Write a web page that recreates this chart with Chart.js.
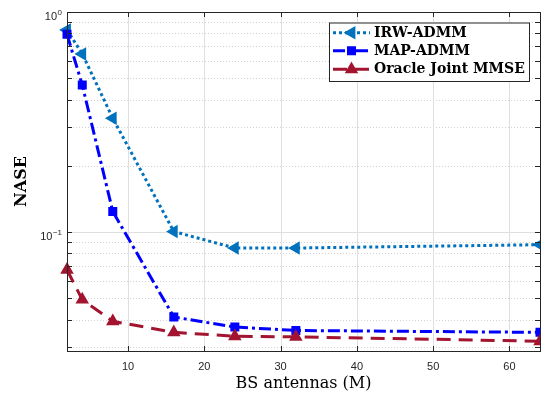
<!DOCTYPE html>
<html>
<head>
<meta charset="utf-8">
<script src="https://cdn.jsdelivr.net/npm/chart.js@4.4.1/dist/chart.umd.min.js"></script>
<style>
  html, body { margin: 0; padding: 0; background: #fff; }
  #myChart { display: block; }
</style>
</head>
<body>
<canvas id="myChart" width="551" height="401"></canvas>
<script>
// BS antennas (M)
const antennas = [2, 4, 8, 16, 24, 32, 64];
// NASE values
const irwAdmm = [0.829, 0.645, 0.329, 0.1005, 0.0846, 0.0846, 0.0876];
const mapAdmm = [0.792, 0.466, 0.124, 0.0411, 0.0370, 0.0357, 0.0350];
const oracleMmse = [0.0674, 0.0493, 0.0393, 0.0350, 0.0336, 0.0334, 0.0319];
const seriesNames = ['IRW-ADMM', 'MAP-ADMM', 'Oracle Joint MMSE'];

const xTicks = [10, 20, 30, 40, 50, 60];
const yTicks = [0.03, 0.04, 0.05, 0.06, 0.07, 0.08, 0.09, 0.1, 0.2, 0.3, 0.4, 0.5, 0.6, 0.7, 0.8, 0.9, 1];
const yMajor = [0.1, 1];
const yExponents = { '1': '0', '0.1': '-1' };

const axisColor = '#262626';
const sansFamily = '"Liberation Sans", Arial, sans-serif';
const tickFont = { family: sansFamily, size: 11 };

function pts(ys) {
  return antennas.map((x, i) => ({ x: x, y: ys[i] }));
}

// grid, box, inward ticks and the 10^n labels like the matlab axes
const framePlugin = {
  id: 'frame',
  beforeDatasetsDraw(chart) {
    const { ctx, chartArea: a, scales } = chart;
    ctx.save();
    ctx.lineWidth = 1;
    // minor y grid, dotted
    ctx.strokeStyle = '#d2d2d2';
    ctx.setLineDash([1, 2]);
    yTicks.forEach(v => {
      if (yMajor.includes(v)) return;
      const y = Math.round(scales.y.getPixelForValue(v)) + 0.5;
      ctx.beginPath(); ctx.moveTo(a.left, y); ctx.lineTo(a.right, y); ctx.stroke();
    });
    ctx.setLineDash([]);
    ctx.strokeStyle = '#dfdfdf';
    yMajor.forEach(v => {
      const y = Math.round(scales.y.getPixelForValue(v)) + 0.5;
      ctx.beginPath(); ctx.moveTo(a.left, y); ctx.lineTo(a.right, y); ctx.stroke();
    });
    xTicks.forEach(v => {
      const x = Math.round(scales.x.getPixelForValue(v)) + 0.5;
      ctx.beginPath(); ctx.moveTo(x, a.top); ctx.lineTo(x, a.bottom); ctx.stroke();
    });
    ctx.restore();
  },
  afterDatasetsDraw(chart) {
    const { ctx, chartArea: a, scales } = chart;
    const tl = 5;
    ctx.save();
    ctx.strokeStyle = axisColor;
    ctx.lineWidth = 1;
    ctx.beginPath();
    xTicks.forEach(v => {
      const x = Math.round(scales.x.getPixelForValue(v)) + 0.5;
      ctx.moveTo(x, a.bottom); ctx.lineTo(x, a.bottom - tl);
      ctx.moveTo(x, a.top); ctx.lineTo(x, a.top + tl);
    });
    yTicks.forEach(v => {
      const y = Math.round(scales.y.getPixelForValue(v)) + 0.5;
      ctx.moveTo(a.left, y); ctx.lineTo(a.left + tl, y);
      ctx.moveTo(a.right, y); ctx.lineTo(a.right - tl, y);
    });
    ctx.stroke();
    ctx.strokeRect(Math.round(a.left) + 0.5, Math.round(a.top) + 0.5,
      Math.round(a.right - a.left), Math.round(a.bottom - a.top));

    // y labels: base 10 with a raised exponent
    ctx.fillStyle = axisColor;
    ctx.textBaseline = 'alphabetic';
    ctx.textAlign = 'right';
    const right = a.left - 5;
    yMajor.forEach(v => {
      const y = scales.y.getPixelForValue(v);
      const exp = yExponents[String(v)].replace('-', '\u2212');
      ctx.font = '8px ' + sansFamily;
      const ew = ctx.measureText(exp).width;
      ctx.fillText(exp, right, y + 3);
      ctx.font = '11px ' + sansFamily;
      ctx.fillText('10', right - ew - 0.5, y + 8);
    });
    ctx.restore();
  }
};

// legend box with line + marker samples
const legendPlugin = {
  id: 'matlabLegend',
  afterDraw(chart) {
    const ctx = chart.ctx;
    const box = { x: 329, y: 22.5, w: 200, h: 58.5 };
    const rowY = [32.7, 50.7, 69.3];
    ctx.save();
    ctx.fillStyle = '#fff';
    ctx.fillRect(box.x, box.y, box.w, box.h);
    ctx.strokeStyle = axisColor;
    ctx.lineWidth = 1;
    ctx.strokeRect(box.x + 0.5, box.y + 0.5, box.w, box.h);
    chart.data.datasets.forEach((ds, i) => {
      const y = rowY[i];
      ctx.save();
      ctx.strokeStyle = ds.borderColor;
      ctx.lineWidth = ds.borderWidth;
      ctx.setLineDash(ds.borderDash);
      ctx.beginPath(); ctx.moveTo(333, y); ctx.lineTo(370, y); ctx.stroke();
      ctx.setLineDash([]);
      ctx.fillStyle = ds.pointBackgroundColor;
      ctx.strokeStyle = ds.pointBorderColor;
      ctx.lineWidth = ds.pointBorderWidth;
      Chart.helpers.drawPoint(ctx, {
        pointStyle: ds.pointStyle, rotation: ds.pointRotation || 0,
        radius: ds.pointRadius, borderWidth: ds.pointBorderWidth
      }, 351.5, y);
      ctx.restore();
      ctx.fillStyle = '#000';
      ctx.font = 'bold 14px "DejaVu Serif", serif';
      ctx.textBaseline = 'middle';
      ctx.textAlign = 'left';
      ctx.fillText(ds.label, 374, y + 0.5);
    });
    ctx.restore();
  }
};

const ctx = document.getElementById('myChart').getContext('2d');
const nasChart = new Chart(ctx, {
  type: 'line',
  data: {
    datasets: [
      {
        label: seriesNames[0],
        data: pts(irwAdmm),
        borderColor: '#0072BD',
        borderWidth: 3,
        borderDash: [3, 3],
        pointStyle: 'triangle',
        pointRotation: -90,
        pointRadius: 6.3,
        pointBorderWidth: 1.5,
        pointBorderColor: '#0072BD',
        pointBackgroundColor: '#0072BD',
        order: 3,
      },
      {
        label: seriesNames[1],
        data: pts(mapAdmm),
        borderColor: '#0000FF',
        borderWidth: 3,
        borderDash: [12, 4, 3, 4],
        pointStyle: 'rect',
        pointRadius: 5.3,
        pointBorderWidth: 1.5,
        pointBorderColor: '#0000FF',
        pointBackgroundColor: '#0000FF',
        order: 2,
      },
      {
        label: seriesNames[2],
        data: pts(oracleMmse),
        borderColor: '#A2142F',
        borderWidth: 3,
        borderDash: [14, 8],
        pointStyle: 'triangle',
        pointRadius: 6.3,
        pointBorderWidth: 1.5,
        pointBorderColor: '#A2142F',
        pointBackgroundColor: '#A2142F',
        order: 1,
      },
    ],
  },
  options: {
    responsive: false,
    animation: false,
    devicePixelRatio: 1,
    layout: { padding: { top: 12, right: 11, left: 0, bottom: 0 } },
    elements: { line: { tension: 0, borderCapStyle: 'butt' } },
    datasets: { line: { clip: { left: false, top: false, right: 0, bottom: false } } },
    plugins: { legend: { display: false }, tooltip: { enabled: false } },
    scales: {
      x: {
        type: 'linear',
        min: 2,
        max: 64,
        afterBuildTicks: scale => { scale.ticks = xTicks.map(v => ({ value: v })); },
        afterFit: scale => { scale.height = 50; },
        grid: { display: false, drawTicks: false },
        border: { display: false },
        ticks: { font: tickFont, color: axisColor, padding: 9, autoSkip: false, maxRotation: 0 },
        title: {
          display: true,
          text: 'BS antennas (M)',
          color: '#000',
          font: { family: '"DejaVu Serif", serif', size: 16 },
          padding: { top: 0, bottom: 8 },
        },
      },
      y: {
        type: 'logarithmic',
        min: 0.0288,
        max: 1,
        afterBuildTicks: scale => { scale.ticks = yTicks.map(v => ({ value: v })); },
        afterFit: scale => { scale.width = 67; },
        grid: { display: false, drawTicks: false },
        border: { display: false },
        ticks: { display: false },
        title: {
          display: true,
          text: 'NASE',
          color: '#000',
          font: { family: '"DejaVu Serif", serif', size: 16, weight: 'bold' },
          padding: { top: 12, bottom: 0 },
        },
      },
    },
  },
  plugins: [framePlugin, legendPlugin],
});
</script>
</body>
</html>
